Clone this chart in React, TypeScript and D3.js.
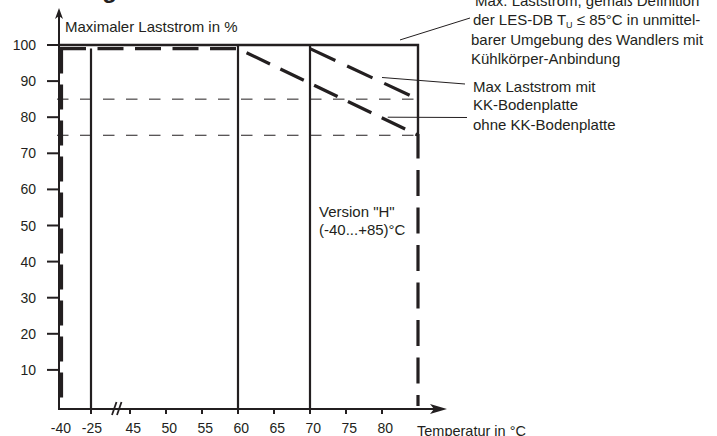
import React from "react";
import * as d3 from "d3";

// ---- data ----
const yTicks = [10, 20, 30, 40, 50, 60, 70, 80, 90, 100];
const xTicks = [-40, -25, 45, 50, 55, 60, 65, 70, 75, 80];
const xDomainBreaks = [-40, -25, 45, 85];
const solidVerticals = [-25, 60, 70];
const refLevels = [85, 75];
const boxOutline: [number, number][] = [[-40, 100], [85, 100], [85, 75]];
const envelopeLeft: [number, number][] = [[-40, 99], [-40, 0]];
const envelopeMain: [number, number][] = [[-40, 99], [60, 99], [85, 75], [85, 0]];
const withPlate: [number, number][] = [[70, 99], [85, 85]];
const boxLeaderStart: [number, number] = [82.5, 101.4];
const plateLeaderStart: [number, number] = [80, 91];
const noPlateLeaderStart: [number, number] = [80.8, 80];
const boxNote = ["Max. Laststrom, gemäß Definition", "der LES-DB T", "U", " ≤ 85°C in unmittel-", "barer Umgebung des Wandlers mit", "Kühlkörper-Anbindung"];
const plateNote = ["Max Laststrom mit", "KK-Bodenplatte"];
const noPlateNote = "ohne KK-Bodenplatte";
const versionNote = ["Version \"H\"", "(-40...+85)°C"];
const yTitle = "Maximaler Laststrom in %";
const xTitle = "Temperatur in °C";
const chartTitle = "Derating";

const W = 717;
const H = 436;
const C = "#231f20";
const FONT = "'Liberation Sans', Arial, sans-serif";

export default function App() {
  const xs = d3.scaleLinear().domain(xDomainBreaks).range([60, 91, 130, 418]);
  const ys = d3.scaleLinear().domain([0, 100]).range([406, 45]);
  const line = d3
    .line<[number, number]>()
    .x((d) => xs(d[0]))
    .y((d) => ys(d[1]));
  const axisX = xs(-40) - 1;
  const axisY = 409;
  const noteX = 473;
  const NF = 15;

  return (
    <svg
      width={W}
      height={H}
      viewBox={`0 0 ${W} ${H}`}
      style={{ position: "absolute", left: 0, top: 0, background: "#fff" }}
      fontFamily={FONT}
      fontSize={14}
      fill={C}
    >
      <rect width={W} height={H} fill="#fff" />
      {/* cut-off title */}
      <text x={117} y={-2} textAnchor="end" fontSize={24} fontWeight="bold">
        {chartTitle}
      </text>

      {/* thin dashed reference levels */}
      {refLevels.map((v) => (
        <line
          key={v}
          x1={xs(-40) - 3}
          x2={xs(85)}
          y1={ys(v)}
          y2={ys(v)}
          stroke={C}
          strokeWidth={1}
          strokeDasharray="11.5 11.5"
        />
      ))}

      {/* solid verticals */}
      {solidVerticals.map((v) => (
        <line key={v} x1={xs(v)} x2={xs(v)} y1={v < 0 ? ys(99) : ys(100)} y2={axisY} stroke={C} strokeWidth={2.2} />
      ))}

      {/* box outline */}
      <path d={line(boxOutline) || ""} fill="none" stroke={C} strokeWidth={2.4} />

      {/* thick dashed envelopes */}
      <path d={line(envelopeLeft) || ""} transform="translate(1.5,0)" fill="none" stroke={C} strokeWidth={3.2} strokeDasharray="25 11" />
      <path d={line(envelopeMain) || ""} fill="none" stroke={C} strokeWidth={3.2} strokeDasharray="26 11.5" />
      <path d={line(withPlate) || ""} fill="none" stroke={C} strokeWidth={3.2} strokeDasharray="28 13" />

      {/* axes */}
      <line x1={axisX} x2={axisX} y1={axisY + 1} y2={16} stroke={C} strokeWidth={2} />
      <path d={`M${axisX},8 L${axisX - 4},19 L${axisX},16 L${axisX + 4},19 Z`} fill={C} />
      <line x1={axisX - 1} x2={436} y1={axisY} y2={axisY} stroke={C} strokeWidth={2} />
      <path d={`M447,${axisY} L430,${axisY - 5} L434,${axisY} L430,${axisY + 5} Z`} fill={C} />

      {/* y ticks */}
      {yTicks.map((v) => (
        <g key={v}>
          <line x1={47} x2={axisX} y1={ys(v)} y2={ys(v)} stroke={C} strokeWidth={2} />
          <text x={36} y={ys(v) + 5} textAnchor="end">
            {v}
          </text>
        </g>
      ))}

      {/* x ticks */}
      {xTicks.map((v) => (
        <g key={v}>
          {v !== -40 && <line x1={xs(v)} x2={xs(v)} y1={axisY} y2={axisY + 5} stroke={C} strokeWidth={2} />}
          <text x={xs(v) + 11} y={433} textAnchor="end">
            {v}
          </text>
        </g>
      ))}

      {/* axis break */}
      <line x1={112} x2={116.5} y1={415} y2={402} stroke={C} strokeWidth={1.8} />
      <line x1={117} x2={121.5} y1={415} y2={402} stroke={C} strokeWidth={1.8} />

      <g fontSize={NF}>
        {/* titles */}
        <text x={65} y={32}>{yTitle}</text>
        <text x={417} y={435.5} fontSize={14.5}>{xTitle}</text>

        {/* version note */}
        <text x={319} y={217}>{versionNote[0]}</text>
        <text x={319} y={235}>{versionNote[1]}</text>

        {/* box note + leader */}
        <line x1={xs(boxLeaderStart[0])} y1={ys(boxLeaderStart[1])} x2={470} y2={18} stroke={C} strokeWidth={1} />
        <text x={475} y={5.5}>{boxNote[0]}</text>
        <text x={noteX} y={25}>
          {boxNote[1]}
          <tspan fontSize={9} dy={3}>{boxNote[2]}</tspan>
          <tspan dy={-3}>{boxNote[3]}</tspan>
        </text>
        <text x={471} y={45}>{boxNote[4]}</text>
        <text x={471} y={64}>{boxNote[5]}</text>

        {/* plate notes + leaders */}
        <line x1={xs(plateLeaderStart[0])} y1={ys(plateLeaderStart[1])} x2={465} y2={84} stroke={C} strokeWidth={1} />
        <text x={noteX} y={92}>{plateNote[0]}</text>
        <text x={noteX} y={110}>{plateNote[1]}</text>
        <line x1={xs(noPlateLeaderStart[0])} y1={ys(noPlateLeaderStart[1])} x2={467} y2={117.5} stroke={C} strokeWidth={1} />
        <text x={noteX} y={130}>{noPlateNote}</text>
      </g>
    </svg>
  );
}
